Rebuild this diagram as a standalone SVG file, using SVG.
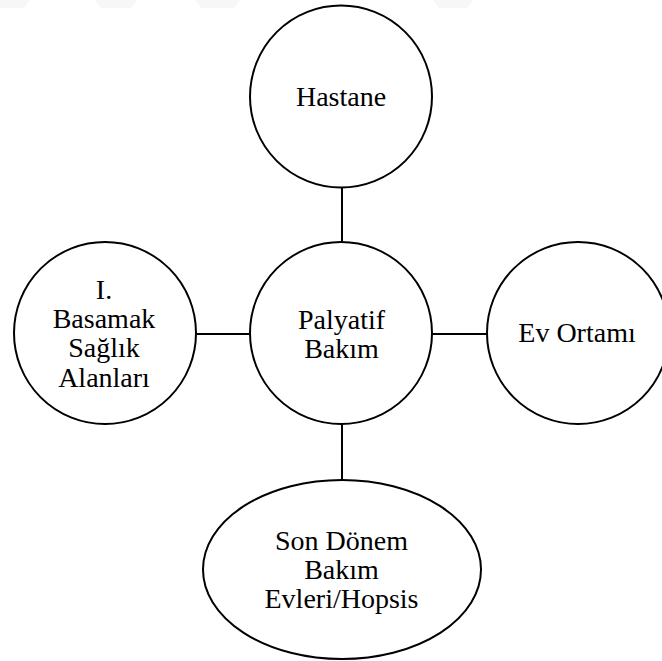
<svg xmlns="http://www.w3.org/2000/svg" width="662" height="661" viewBox="0 0 662 661">
<style>
.n{fill:#fff;stroke:#000;stroke-width:2}
.c{stroke:#000;stroke-width:2;fill:none}
.w{fill:#f7f7f7}
</style>
<rect width="662" height="661" fill="#fff"/>
<g id="watermark">
<polygon class="w" points="0,0 30,0 24,8 0,8"/>
<polygon class="w" points="95,0 137,0 131,8 101,8"/>
<polygon class="w" points="195,0 240,0 234,8 201,8"/>
<polygon class="w" points="433,0 473,0 467,8 439,8"/>
</g>
<g id="connectors">
<line class="c" x1="342" y1="188" x2="342" y2="242"/>
<line class="c" x1="197" y1="334" x2="250" y2="334"/>
<line class="c" x1="432" y1="334" x2="487" y2="334"/>
<line class="c" x1="342" y1="424" x2="342" y2="480"/>
</g>
<g id="hastane">
<circle class="n" cx="341" cy="96.5" r="91"/>
<text style="font-family:'Liberation Serif','Times New Roman',serif;font-size:28px;text-anchor:middle" x="341" y="106">Hastane</text>
</g>
<g id="palyatif">
<circle class="n" cx="341" cy="333" r="91"/>
<text style="font-family:'Liberation Serif','Times New Roman',serif;font-size:28px;text-anchor:middle"><tspan x="341.5" y="329">Palyatif</tspan><tspan x="341.5" y="358">Bakım</tspan></text>
</g>
<g id="basamak">
<circle class="n" cx="105" cy="333" r="91"/>
<text style="font-family:'Liberation Serif','Times New Roman',serif;font-size:28px;text-anchor:middle"><tspan x="104" y="299">I.</tspan><tspan x="104" y="328">Basamak</tspan><tspan x="104" y="357">Sağlık</tspan><tspan x="104" y="387">Alanları</tspan></text>
</g>
<g id="ev">
<circle class="n" cx="578" cy="333" r="91"/>
<text style="font-family:'Liberation Serif','Times New Roman',serif;font-size:28px;text-anchor:middle" x="577" y="342">Ev Ortamı</text>
</g>
<g id="son">
<ellipse class="n" cx="342" cy="569.5" rx="139" ry="89.5"/>
<text style="font-family:'Liberation Serif','Times New Roman',serif;font-size:28px;text-anchor:middle"><tspan x="341.5" y="550">Son Dönem</tspan><tspan x="341.5" y="579">Bakım</tspan><tspan x="341.5" y="608">Evleri/Hopsis</tspan></text>
</g>
</svg>
